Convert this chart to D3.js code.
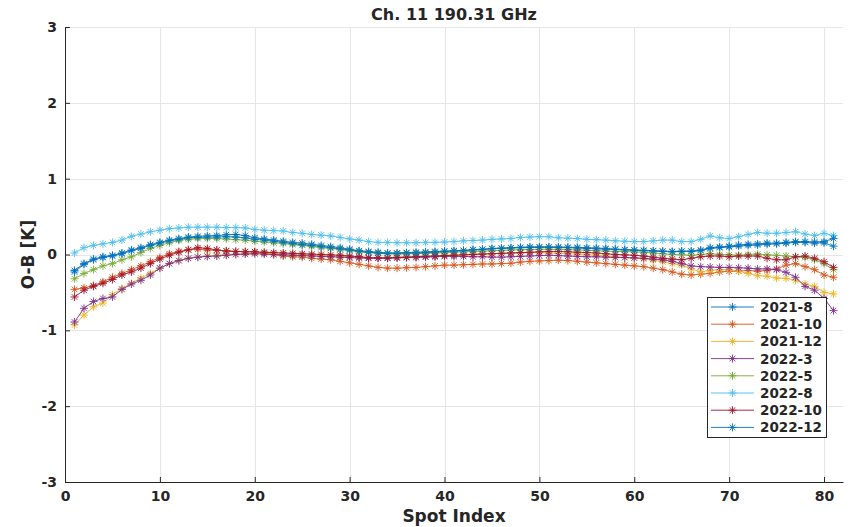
<!DOCTYPE html>
<html>
<head>
<meta charset="utf-8">
<script src="https://cdn.jsdelivr.net/npm/d3@7"></script>
<style>
  html, body { margin: 0; padding: 0; background: #fff; }
  svg text { font-family: "DejaVu Sans", sans-serif; font-weight: bold; fill: #262626; }
</style>
</head>
<body>
<svg id="chart" width="866" height="527"></svg>
<script>
// Channel 11 (190.31 GHz) O-B bias per scan spot, one series per month
const titleText = "Ch. 11 190.31 GHz";
const xLabel = "Spot Index";
const yLabel = "O-B [K]";
const xTicks = [0, 10, 20, 30, 40, 50, 60, 70, 80];
const yTicks = [-3, -2, -1, 0, 1, 2, 3];
const spots = d3.range(1, 82);

const months = ["2021-8", "2021-10", "2021-12", "2022-3", "2022-5", "2022-8", "2022-10", "2022-12"];
const colors = ["#0072BD", "#D95319", "#EDB120", "#7E2F8E", "#77AC30", "#4DBEEE", "#A2142F", "#0072BD"];

const s2021_8 = [
  -0.21, -0.12, -0.06, -0.03, -0.01, 0.02, 0.06, 0.09, 0.13, 0.16, 0.19, 0.21, 0.23, 0.24, 0.245, 0.25, 0.26, 0.265, 0.25, 0.22,
  0.205, 0.19, 0.175, 0.16, 0.15, 0.135, 0.12, 0.105, 0.09, 0.07, 0.05, 0.04, 0.03, 0.02, 0.02, 0.025, 0.03, 0.035, 0.04, 0.045,
  0.05, 0.055, 0.065, 0.07, 0.08, 0.085, 0.09, 0.095, 0.10, 0.10, 0.10, 0.10, 0.095, 0.095, 0.09, 0.085, 0.08, 0.07, 0.065, 0.06,
  0.055, 0.05, 0.045, 0.04, 0.045, 0.04, 0.05, 0.08, 0.09, 0.10, 0.11, 0.12, 0.125, 0.135, 0.14, 0.15, 0.16, 0.16, 0.15, 0.155, 0.11
];
const s2021_10 = [
  -0.46, -0.44, -0.41, -0.36, -0.30, -0.25, -0.20, -0.15, -0.095, -0.04, 0.01, 0.04, 0.065, 0.07, 0.06, 0.055, 0.05, 0.04, 0.04, 0.035,
  0.02, 0.0, -0.02, -0.03, -0.035, -0.05, -0.06, -0.07, -0.09, -0.11, -0.13, -0.15, -0.17, -0.18, -0.18, -0.175, -0.17, -0.16, -0.15, -0.14,
  -0.14, -0.135, -0.13, -0.125, -0.125, -0.12, -0.115, -0.10, -0.09, -0.085, -0.08, -0.075, -0.08, -0.09, -0.10, -0.11, -0.12, -0.13, -0.14, -0.15,
  -0.16, -0.18, -0.20, -0.23, -0.26, -0.27, -0.26, -0.25, -0.23, -0.22, -0.22, -0.21, -0.22, -0.21, -0.19, -0.14, -0.12, -0.16, -0.20, -0.27, -0.30
];
const s2021_12 = [
  -0.93, -0.80, -0.69, -0.64, -0.53, -0.45, -0.38, -0.31, -0.25, -0.18, -0.12, -0.08, -0.05, -0.035, -0.02, -0.01, 0.0, 0.005, 0.01, 0.02,
  0.015, 0.01, 0.005, 0.0, -0.005, -0.01, -0.015, -0.02, -0.025, -0.03, -0.035, -0.04, -0.04, -0.04, -0.035, -0.03, -0.025, -0.02, -0.015, -0.01,
  -0.005, 0.0, 0.005, 0.01, 0.01, 0.015, 0.02, 0.02, 0.025, 0.025, 0.02, 0.015, 0.01, 0.005, 0.0, -0.01, -0.02, -0.03, -0.04, -0.05,
  -0.06, -0.075, -0.095, -0.12, -0.14, -0.19, -0.23, -0.21, -0.20, -0.20, -0.22, -0.25, -0.28, -0.285, -0.31, -0.315, -0.34, -0.39, -0.42, -0.50, -0.52
];
const s2022_3 = [
  -0.89, -0.71, -0.62, -0.58, -0.56, -0.46, -0.39, -0.34, -0.27, -0.18, -0.12, -0.08, -0.05, -0.035, -0.025, -0.02, -0.01, 0.0, 0.005, 0.01,
  0.005, 0.0, -0.005, -0.01, -0.015, -0.02, -0.025, -0.03, -0.035, -0.04, -0.045, -0.05, -0.05, -0.05, -0.045, -0.04, -0.04, -0.035, -0.03, -0.025,
  -0.025, -0.025, -0.03, -0.03, -0.035, -0.035, -0.03, -0.025, -0.02, -0.015, -0.01, -0.015, -0.02, -0.025, -0.03, -0.03, -0.035, -0.04, -0.04, -0.045,
  -0.05, -0.06, -0.07, -0.09, -0.12, -0.15, -0.16, -0.165, -0.17, -0.17, -0.175, -0.18, -0.19, -0.19, -0.20, -0.235, -0.30, -0.42, -0.47, -0.58, -0.74
];
const s2022_5 = [
  -0.32, -0.25, -0.20, -0.15, -0.12, -0.07, -0.03, 0.025, 0.08, 0.12, 0.155, 0.185, 0.20, 0.21, 0.21, 0.21, 0.205, 0.195, 0.19, 0.175,
  0.165, 0.155, 0.145, 0.13, 0.12, 0.105, 0.09, 0.08, 0.065, 0.05, 0.035, 0.025, 0.015, 0.01, 0.005, 0.01, 0.01, 0.015, 0.02, 0.025,
  0.03, 0.035, 0.04, 0.045, 0.05, 0.055, 0.06, 0.065, 0.065, 0.07, 0.07, 0.065, 0.065, 0.06, 0.055, 0.05, 0.045, 0.04, 0.04, 0.035,
  0.03, 0.02, 0.01, 0.0, -0.005, -0.01, 0.0, 0.01, 0.0, -0.005, -0.01, 0.0, 0.005, -0.005, -0.01, -0.02, -0.03, -0.04, -0.07, -0.12, -0.20
];
const s2022_8 = [
  0.02, 0.09, 0.12, 0.14, 0.16, 0.19, 0.24, 0.27, 0.30, 0.32, 0.34, 0.35, 0.36, 0.36, 0.36, 0.36, 0.355, 0.355, 0.35, 0.33,
  0.32, 0.315, 0.31, 0.29, 0.28, 0.265, 0.255, 0.245, 0.225, 0.205, 0.19, 0.17, 0.16, 0.16, 0.155, 0.155, 0.155, 0.16, 0.16, 0.165,
  0.17, 0.18, 0.185, 0.19, 0.20, 0.205, 0.21, 0.225, 0.23, 0.235, 0.235, 0.22, 0.215, 0.21, 0.20, 0.195, 0.19, 0.18, 0.175, 0.17,
  0.17, 0.18, 0.19, 0.19, 0.17, 0.17, 0.20, 0.245, 0.22, 0.21, 0.235, 0.265, 0.29, 0.28, 0.28, 0.29, 0.30, 0.27, 0.25, 0.28, 0.25
];
const s2022_10 = [
  -0.56, -0.47, -0.42, -0.38, -0.33, -0.27, -0.23, -0.18, -0.12, -0.06, -0.01, 0.03, 0.06, 0.09, 0.08, 0.06, 0.045, 0.04, 0.035, 0.035,
  0.03, 0.025, 0.02, 0.015, 0.01, 0.005, 0.0, -0.005, -0.01, -0.02, -0.03, -0.04, -0.045, -0.045, -0.04, -0.035, -0.03, -0.025, -0.02, -0.015,
  -0.01, -0.005, 0.0, 0.005, 0.01, 0.015, 0.02, 0.025, 0.03, 0.035, 0.04, 0.04, 0.035, 0.03, 0.025, 0.02, 0.01, 0.0, -0.005, -0.01,
  -0.02, -0.035, -0.05, -0.06, -0.07, -0.05, -0.03, -0.02, -0.02, -0.03, -0.02, -0.02, -0.02, -0.05, -0.07, -0.07, -0.03, -0.02, -0.05, -0.095, -0.17
];
const s2022_12 = [
  -0.23, -0.13, -0.07, -0.04, -0.02, 0.01, 0.05, 0.08, 0.12, 0.15, 0.18, 0.20, 0.22, 0.225, 0.23, 0.23, 0.235, 0.23, 0.22, 0.20,
  0.19, 0.175, 0.16, 0.145, 0.13, 0.12, 0.105, 0.09, 0.075, 0.06, 0.045, 0.03, 0.02, 0.015, 0.015, 0.02, 0.02, 0.025, 0.03, 0.04,
  0.045, 0.05, 0.06, 0.065, 0.075, 0.08, 0.085, 0.09, 0.09, 0.095, 0.095, 0.09, 0.09, 0.085, 0.08, 0.075, 0.07, 0.065, 0.06, 0.055,
  0.05, 0.045, 0.04, 0.035, 0.04, 0.045, 0.06, 0.09, 0.10, 0.11, 0.125, 0.135, 0.14, 0.15, 0.15, 0.16, 0.17, 0.17, 0.165, 0.17, 0.21
];

const seriesValues = [s2021_8, s2021_10, s2021_12, s2022_3, s2022_5, s2022_8, s2022_10, s2022_12];

const series = months.map((m, k) => ({
  name: m,
  color: colors[k],
  points: spots.map((s, i) => ({ x: s, y: seriesValues[k][i] }))
}));

const svg = d3.select("#chart");
const margin = { left: 65, right: 23, top: 27, bottom: 45 };
const W = 866, H = 527;
const x = d3.scaleLinear().domain([0, 82]).range([margin.left, W - margin.right]);
const y = d3.scaleLinear().domain([-3, 3]).range([H - margin.bottom, margin.top]);

// grid
const grid = svg.append("g").attr("stroke", "#e6e6e6").attr("stroke-width", 1);
grid.selectAll("line.gx").data(xTicks.filter(t => t > 0)).join("line")
  .attr("x1", d => Math.round(x(d)) + 0.5).attr("x2", d => Math.round(x(d)) + 0.5)
  .attr("y1", y(-3)).attr("y2", y(3));
grid.selectAll("line.gy").data(yTicks.filter(t => t > -3)).join("line")
  .attr("y1", d => Math.round(y(d)) + 0.5).attr("y2", d => Math.round(y(d)) + 0.5)
  .attr("x1", x(0)).attr("x2", x(82));

// axes (plain hyphen for negative labels)
const plain = d => String(d);
const xAxis = d3.axisBottom(x).tickValues(xTicks).tickFormat(plain)
  .tickSizeInner(-5).tickSizeOuter(0).tickPadding(9);
const yAxis = d3.axisLeft(y).tickValues(yTicks).tickFormat(plain)
  .tickSizeInner(-5).tickSizeOuter(0).tickPadding(8);

const gx = svg.append("g").attr("transform", `translate(0,${y(-3)})`).call(xAxis);
const gy = svg.append("g").attr("transform", `translate(${x(0)},0)`).call(yAxis);
[gx, gy].forEach(g => {
  g.select(".domain").attr("stroke", "#262626");
  g.selectAll(".tick line").attr("stroke", "#262626");
  g.selectAll(".tick text").attr("font-size", 14).attr("fill", "#262626")
    .style("font-family", "\"DejaVu Sans\", sans-serif").style("font-weight", "bold");
});

// asterisk marker path
const r = 4;
const d6 = r * Math.SQRT1_2;
const starPath = `M${-r},0L${r},0M0,${-r}L0,${r}M${-d6},${-d6}L${d6},${d6}M${-d6},${d6}L${d6},${-d6}`;

const line = d3.line().x(d => x(d.x)).y(d => y(d.y));

const plot = svg.append("g");
series.forEach(s => {
  const g = plot.append("g");
  g.append("path").datum(s.points).attr("d", line)
    .attr("fill", "none").attr("stroke", s.color).attr("stroke-width", 0.9);
  g.selectAll("path.m").data(s.points).join("path").attr("class", "m")
    .attr("transform", d => `translate(${x(d.x)},${y(d.y)})`)
    .attr("d", starPath).attr("fill", "none").attr("stroke", s.color).attr("stroke-width", 0.9);
});

// title and axis labels
svg.append("text").attr("x", (x(0) + x(82)) / 2).attr("y", 20).attr("text-anchor", "middle")
  .attr("font-size", 16).text(titleText);
svg.append("text").attr("x", (x(0) + x(82)) / 2).attr("y", 522).attr("text-anchor", "middle")
  .attr("font-size", 17).text(xLabel);
svg.append("text").attr("transform", `translate(34,${y(0)}) rotate(-90)`).attr("text-anchor", "middle")
  .attr("font-size", 17).text(yLabel);

// legend
const lg = svg.append("g").attr("transform", "translate(707,297)");
lg.append("rect").attr("x", 0.5).attr("y", 0.5).attr("width", 119).attr("height", 140)
  .attr("fill", "#fff").attr("stroke", "#262626").attr("stroke-width", 1);
const items = lg.selectAll("g.item").data(series).join("g").attr("class", "item")
  .attr("transform", (d, i) => `translate(0,${10 + i * 17.2})`);
items.append("line").attr("x1", 4).attr("x2", 47).attr("y1", 0).attr("y2", 0)
  .attr("stroke", d => d.color).attr("stroke-width", 0.9);
items.append("path").attr("transform", "translate(25.5,0)").attr("d", starPath)
  .attr("fill", "none").attr("stroke", d => d.color).attr("stroke-width", 0.9);
items.append("text").attr("x", 53).attr("y", 5).attr("font-size", 13.5).text(d => d.name);
</script>
</body>
</html>
